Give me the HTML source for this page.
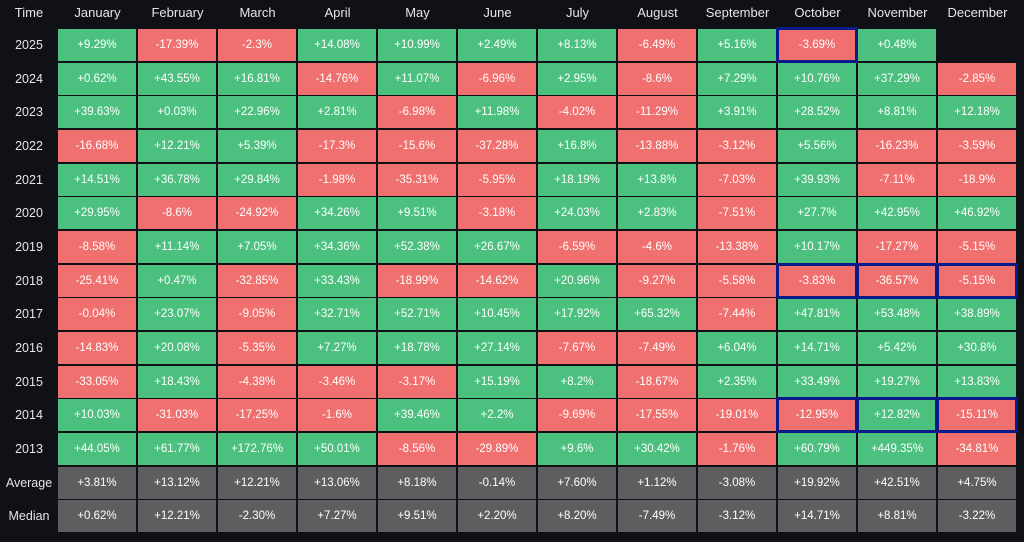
<!DOCTYPE html>
<html><head><meta charset="utf-8"><style>
body{margin:0;width:1024px;height:542px;background:#0f1116;overflow:hidden;font-family:"Liberation Sans",sans-serif;}
.c{position:absolute;display:flex;align-items:center;justify-content:center;color:#fff;font-size:11.5px;}
.h{color:#e6e6e6;font-size:13px;}
.g{background:#4cc17f}.r{background:#f0706f}.a{background:#5e5e60}
.b{outline:3px solid #0a1a8a;outline-offset:-1px;z-index:2}
</style></head><body>
<div id="t"></div>
<script>
const months=["January","February","March","April","May","June","July","August","September","October","November","December"];
const rows=[
["2025","+9.29%","-17.39%","-2.3%","+14.08%","+10.99%","+2.49%","+8.13%","-6.49%","+5.16%","-3.69%","+0.48%",""],
["2024","+0.62%","+43.55%","+16.81%","-14.76%","+11.07%","-6.96%","+2.95%","-8.6%","+7.29%","+10.76%","+37.29%","-2.85%"],
["2023","+39.63%","+0.03%","+22.96%","+2.81%","-6.98%","+11.98%","-4.02%","-11.29%","+3.91%","+28.52%","+8.81%","+12.18%"],
["2022","-16.68%","+12.21%","+5.39%","-17.3%","-15.6%","-37.28%","+16.8%","-13.88%","-3.12%","+5.56%","-16.23%","-3.59%"],
["2021","+14.51%","+36.78%","+29.84%","-1.98%","-35.31%","-5.95%","+18.19%","+13.8%","-7.03%","+39.93%","-7.11%","-18.9%"],
["2020","+29.95%","-8.6%","-24.92%","+34.26%","+9.51%","-3.18%","+24.03%","+2.83%","-7.51%","+27.7%","+42.95%","+46.92%"],
["2019","-8.58%","+11.14%","+7.05%","+34.36%","+52.38%","+26.67%","-6.59%","-4.6%","-13.38%","+10.17%","-17.27%","-5.15%"],
["2018","-25.41%","+0.47%","-32.85%","+33.43%","-18.99%","-14.62%","+20.96%","-9.27%","-5.58%","-3.83%","-36.57%","-5.15%"],
["2017","-0.04%","+23.07%","-9.05%","+32.71%","+52.71%","+10.45%","+17.92%","+65.32%","-7.44%","+47.81%","+53.48%","+38.89%"],
["2016","-14.83%","+20.08%","-5.35%","+7.27%","+18.78%","+27.14%","-7.67%","-7.49%","+6.04%","+14.71%","+5.42%","+30.8%"],
["2015","-33.05%","+18.43%","-4.38%","-3.46%","-3.17%","+15.19%","+8.2%","-18.67%","+2.35%","+33.49%","+19.27%","+13.83%"],
["2014","+10.03%","-31.03%","-17.25%","-1.6%","+39.46%","+2.2%","-9.69%","-17.55%","-19.01%","-12.95%","+12.82%","-15.11%"],
["2013","+44.05%","+61.77%","+172.76%","+50.01%","-8.56%","-29.89%","+9.6%","+30.42%","-1.76%","+60.79%","+449.35%","-34.81%"],
["Average","+3.81%","+13.12%","+12.21%","+13.06%","+8.18%","-0.14%","+7.60%","+1.12%","-3.08%","+19.92%","+42.51%","+4.75%"],
["Median","+0.62%","+12.21%","-2.30%","+7.27%","+9.51%","+2.20%","+8.20%","-7.49%","-3.12%","+14.71%","+8.81%","-3.22%"]];
const boxed={"0-9":1,"7-9":1,"7-10":1,"7-11":1,"11-9":1,"11-10":1,"11-11":1};
let h='<div class="c h" style="left:0;top:0;width:58px;height:24px">Time</div>';
months.forEach((m,i)=>h+=`<div class="c h" style="left:${58+i*80}px;top:0;width:79px;height:24px">${m}</div>`);
rows.forEach((r,ri)=>{const y=29+ri*33.67;
h+=`<div class="c h" style="left:0;top:${y}px;width:58px;height:32px;font-size:12.5px">${r[0]}</div>`;
for(let j=1;j<13;j++){const v=r[j];if(!v)continue;
const cls=ri>=13?'a':(v[0]=='-'?'r':'g');
h+=`<div class="c ${cls} ${boxed[ri+'-'+(j-1)]?'b':''}" style="left:${58+(j-1)*80}px;top:${y}px;width:78px;height:32px">${v}</div>`;}});
document.getElementById('t').innerHTML=h;
</script>
</body></html>
